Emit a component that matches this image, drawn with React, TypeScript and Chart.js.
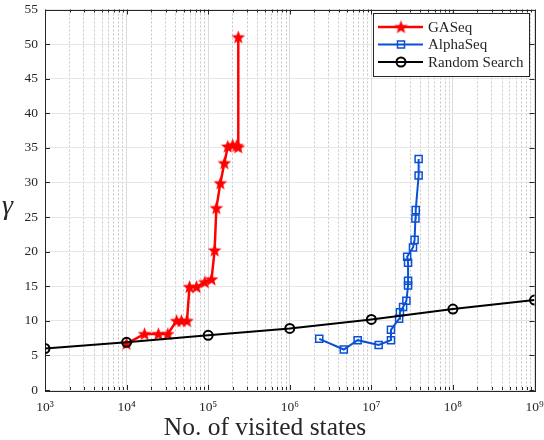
import React, { useEffect, useRef } from 'react';
import { Chart, registerables } from 'chart.js';

Chart.register(...registerables);

// ---- data ----
const gaseqX = [1.0e4, 1.66e4, 2.45e4, 3.2e4, 4.1e4, 4.7e4, 5.5e4, 5.9e4, 7.2e4, 9.1e4, 1.1e5, 1.2e5, 1.26e5, 1.41e5, 1.58e5, 1.74e5, 2.0e5, 2.24e5, 2.34e5, 2.34e5];
const gaseqY = [6.7, 8.1, 8.1, 8.1, 10.0, 10.0, 10.0, 14.9, 14.9, 15.6, 16.0, 20.2, 26.3, 29.9, 32.8, 35.2, 35.4, 35.3, 35.1, 51.0];

const alphaX = [2.3e6, 4.6e6, 6.8e6, 1.23e7, 1.74e7, 1.74e7, 2.19e7, 2.24e7, 2.45e7, 2.69e7, 2.82e7, 2.82e7, 2.82e7, 2.75e7, 3.24e7, 3.39e7, 3.47e7, 3.5e7, 3.8e7, 3.8e7];
const alphaY = [7.4, 5.85, 7.2, 6.5, 7.2, 8.7, 10.3, 11.25, 12.0, 12.9, 15.1, 15.8, 18.4, 19.25, 20.6, 21.7, 24.8, 26.0, 31.0, 33.4];

const randomX = [1e3, 1e4, 1e5, 1e6, 1e7, 1e8, 1e9];
const randomY = [6.0, 6.9, 7.9, 8.9, 10.2, 11.7, 13.0];

const seriesLabels = ['GASeq', 'AlphaSeq', 'Random Search'];
const xTickExponents = [3, 4, 5, 6, 7, 8, 9];
const xTickLabels = ['10³', '10⁴', '10⁵', '10⁶', '10⁷', '10⁸', '10⁹'];
const xAxisTitle = 'No. of visited states';
const yAxisTitle = 'γ';

const FONT = "'Liberation Serif', 'Times New Roman', serif";
const RED = '#ff0000';
const BLUE = '#0a50d4';
const BLACK = '#000000';
const AXIS = '#262626';

function makeStar(size: number, color: string) {
  const c = document.createElement('canvas');
  c.width = size;
  c.height = size;
  const ctx = c.getContext('2d')!;
  const cx = size / 2;
  const cy = size / 2 + 0.5;
  const R = size / 2 - 0.3;
  const r = R * 0.42;
  ctx.beginPath();
  for (let i = 0; i < 10; i++) {
    const a = -Math.PI / 2 + (i * Math.PI) / 5;
    const rad = i % 2 === 0 ? R : r;
    ctx.lineTo(cx + rad * Math.cos(a), cy + rad * Math.sin(a));
  }
  ctx.closePath();
  ctx.fillStyle = color;
  ctx.fill();
  return c;
}

function isDecade(v: number) {
  const l = Math.log10(v);
  return Math.abs(l - Math.round(l)) < 1e-6;
}

const decorPlugin = {
  id: 'decor',
  beforeDatasetsDraw(chart: any) {
    const { ctx, chartArea } = chart;
    const { left, right, top, bottom } = chartArea;
    const xs = chart.scales.x;
    const ys = chart.scales.y;
    ctx.save();
    ctx.strokeStyle = AXIS;
    ctx.lineWidth = 1;
    // inward ticks x
    ctx.beginPath();
    for (const t of xs.ticks) {
      const px = Math.round(xs.getPixelForValue(t.value)) + 0.5;
      const len = isDecade(t.value) ? 5 : 3;
      ctx.moveTo(px, bottom);
      ctx.lineTo(px, bottom - len);
      ctx.moveTo(px, top);
      ctx.lineTo(px, top + len);
    }
    for (const t of ys.ticks) {
      const py = Math.round(ys.getPixelForValue(t.value)) + 0.5;
      ctx.moveTo(left, py);
      ctx.lineTo(left + 5, py);
      ctx.moveTo(right, py);
      ctx.lineTo(right - 5, py);
    }
    ctx.stroke();
    // box
    ctx.strokeRect(Math.round(left) + 0.5, Math.round(top) + 0.5, Math.round(right - left), Math.round(bottom - top));
    ctx.restore();
  },
  afterDraw(chart: any) {
    const { ctx } = chart;
    ctx.save();
    // axis titles
    ctx.fillStyle = AXIS;
    ctx.font = `25.5px ${FONT}`;
    ctx.textAlign = 'center';
    ctx.textBaseline = 'alphabetic';
    ctx.fillText(xAxisTitle, 265, 435);
    ctx.font = `italic 28px ${FONT}`;
    ctx.textAlign = 'left';
    ctx.fillText(yAxisTitle, 2, 214);

    // legend
    const lx = 373.5, ly = 13.5, lw = 156, lh = 63;
    ctx.fillStyle = '#ffffff';
    ctx.fillRect(lx, ly, lw, lh);
    ctx.strokeStyle = AXIS;
    ctx.lineWidth = 1;
    ctx.strokeRect(lx, ly, lw, lh);
    const rows = [27, 44.5, 62];
    chart.data.datasets.forEach((ds: any, i: number) => {
      const y = rows[i];
      ctx.strokeStyle = ds.borderColor;
      ctx.lineWidth = ds.borderWidth;
      ctx.beginPath();
      ctx.moveTo(378, y);
      ctx.lineTo(423, y);
      ctx.stroke();
      if (ds.pointStyle instanceof HTMLCanvasElement) {
        const img = ds.pointStyle;
        ctx.drawImage(img, 401 - img.width / 2, y - img.height / 2);
      } else if (ds.pointStyle === 'rect') {
        ctx.lineWidth = ds.pointBorderWidth;
        ctx.strokeRect(401 - 3.5, y - 3.5, 7, 7);
      } else {
        ctx.lineWidth = ds.pointBorderWidth;
        ctx.beginPath();
        ctx.arc(401, y, ds.pointRadius, 0, Math.PI * 2);
        ctx.stroke();
      }
      ctx.fillStyle = AXIS;
      ctx.font = `15px ${FONT}`;
      ctx.textAlign = 'left';
      ctx.textBaseline = 'middle';
      ctx.fillText(ds.label, 428, y + 1);
    });
    ctx.restore();
  },
};

export default function App() {
  const ref = useRef<HTMLCanvasElement | null>(null);
  useEffect(() => {
    if (!ref.current) return;
    const star = makeStar(15, RED);
    const toPts = (xs: number[], ys: number[]) => xs.map((x, i) => ({ x, y: ys[i] }));
    const chart = new Chart(ref.current, {
      type: 'line',
      data: {
        datasets: [
          {
            label: seriesLabels[0],
            data: toPts(gaseqX, gaseqY),
            borderColor: RED,
            backgroundColor: RED,
            borderWidth: 2.5,
            pointStyle: star as any,
            pointRadius: 7,
            order: 1,
          },
          {
            label: seriesLabels[1],
            data: toPts(alphaX, alphaY),
            borderColor: BLUE,
            backgroundColor: 'transparent',
            borderWidth: 2,
            pointStyle: 'rect',
            pointRadius: 5,
            pointBorderWidth: 1.5,
            pointBorderColor: BLUE,
            pointBackgroundColor: 'transparent',
            order: 2,
          },
          {
            label: seriesLabels[2],
            data: toPts(randomX, randomY),
            borderColor: BLACK,
            backgroundColor: 'transparent',
            borderWidth: 2,
            pointStyle: 'circle',
            pointRadius: 4.5,
            pointBorderWidth: 2,
            pointBorderColor: BLACK,
            pointBackgroundColor: 'transparent',
            order: 0,
          },
        ] as any,
      },
      options: {
        responsive: false,
        animation: false,
        devicePixelRatio: 1,
        layout: { padding: { top: 7, right: 9, left: 0, bottom: 0 } },
        plugins: { legend: { display: false }, tooltip: { enabled: false } },
        elements: { line: { tension: 0 } },
        scales: {
          x: {
            type: 'logarithmic',
            min: 1e3,
            max: 1e9,
            afterBuildTicks: (scale: any) => {
              const ticks: any[] = [];
              for (let e = xTickExponents[0]; e <= xTickExponents[xTickExponents.length - 1]; e++) {
                for (let m = 1; m <= 9; m++) {
                  const v = m * Math.pow(10, e);
                  if (v > 1e9 * 1.0001) break;
                  ticks.push({ value: v });
                }
              }
              scale.ticks = ticks;
            },
            afterFit: (scale: any) => {
              scale.height = 50;
              scale.paddingLeft = 0;
              scale.paddingRight = 0;
            },
            ticks: {
              autoSkip: false,
              maxRotation: 0,
              minRotation: 0,
              padding: 9,
              color: AXIS,
              font: { family: FONT, size: 13.5 },
              callback: (v: any) => {
                const val = Number(v);
                if (!isDecade(val)) return '';
                const e = Math.round(Math.log10(val));
                const idx = xTickExponents.indexOf(e);
                return idx >= 0 ? xTickLabels[idx] : '';
              },
            },
            grid: {
              drawTicks: false,
              lineWidth: 1,
              color: (c: any) => (c.tick && isDecade(c.tick.value) ? '#dcdcdc' : '#c6c6c6'),
            },
            border: {
              display: false,
              dash: (c: any) => (c.tick && !isDecade(c.tick.value) ? [2, 2] : []),
            } as any,
          },
          y: {
            min: 0,
            max: 55,
            afterFit: (scale: any) => {
              scale.width = 45;
              scale.paddingTop = 0;
              scale.paddingBottom = 0;
            },
            ticks: {
              stepSize: 5,
              padding: 7,
              color: AXIS,
              font: { family: FONT, size: 13.5 },
            },
            grid: { drawTicks: false, color: '#e6e6e6', lineWidth: 1 },
            border: { display: false },
          },
        },
      },
      plugins: [decorPlugin],
    });
    return () => chart.destroy();
  }, []);
  return (
    <div style={{ position: 'absolute', left: 0, top: 0, width: 544, height: 440, background: '#fff' }}>
      <canvas ref={ref} width={544} height={440} style={{ width: 544, height: 440 }} />
    </div>
  );
}
